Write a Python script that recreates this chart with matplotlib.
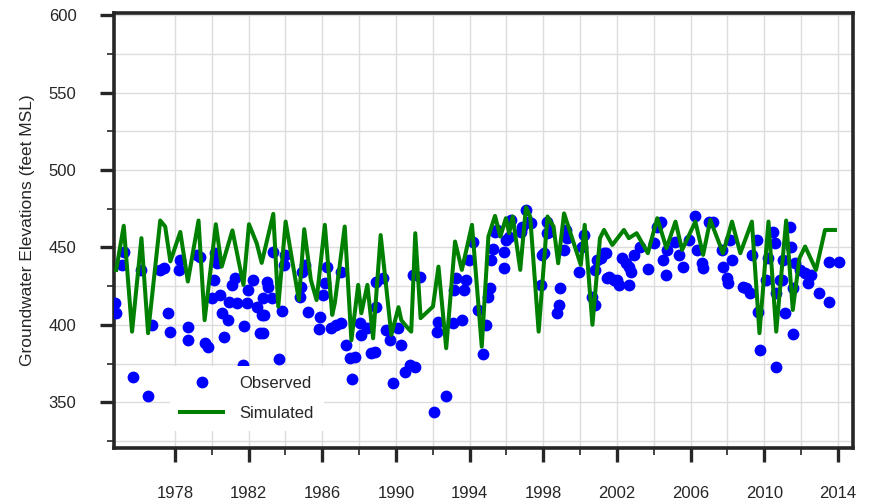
import numpy as np
import matplotlib
matplotlib.use('Agg')
import matplotlib.pyplot as plt
from matplotlib.ticker import FixedLocator

# --------------------------------------------------------------------------------------
# [1] Data (decimal year, groundwater elevation in feet MSL)
# --------------------------------------------------------------------------------------
sim_year = [1974.81, 1975.22, 1975.67, 1976.18, 1976.54, 1977.20, 1977.47, 1977.75,
            1978.29, 1978.70, 1979.28, 1979.61, 1980.22, 1980.54, 1981.12, 1981.72,
            1982.02, 1982.44, 1982.71, 1983.34, 1983.61, 1984.01, 1984.73, 1985.02,
            1985.38, 1985.69, 1986.14, 1986.54, 1986.68, 1987.22, 1987.58, 1987.95,
            1988.12, 1988.45, 1988.76, 1989.17, 1989.75, 1990.14, 1990.29, 1990.65,
            1990.83, 1991.05, 1991.34, 1992.01, 1992.31, 1992.73, 1993.21, 1993.58,
            1994.13, 1994.66, 1995.02, 1995.38, 1995.67, 1995.97, 1996.15, 1996.34,
            1996.75, 1997.06, 1997.29, 1997.75, 1998.23, 1998.56, 1998.81, 1999.13,
            2000.04, 2000.25, 2000.67, 2001.08, 2001.30, 2001.75, 2002.38, 2002.65,
            2003.07, 2003.68, 2004.19, 2004.69, 2005.18, 2005.54, 2006.26, 2006.68,
            2007.07, 2007.76, 2008.25, 2008.70, 2009.33, 2009.74, 2010.23, 2010.65,
            2011.19, 2011.55, 2011.91, 2012.22, 2012.81, 2013.30, 2013.84]
sim_level = [435.5, 464.0, 395.6, 456.0, 394.6, 467.4, 463.5, 441.0,
             460.0, 428.0, 467.4, 403.0, 465.0, 437.6, 461.0, 425.8,
             465.0, 452.7, 440.0, 471.7, 411.8, 466.7, 416.0, 461.8,
             429.0, 416.0, 464.6, 406.4, 414.0, 463.5, 390.0, 425.8,
             407.5, 425.8, 391.3, 458.0, 393.5, 411.4, 403.0, 397.8,
             395.6, 459.2, 404.3, 411.8, 437.6, 384.9, 453.8, 435.5,
             464.6, 385.9, 457.0, 470.4, 457.0, 468.9, 459.2, 470.0,
             435.5, 476.0, 470.0, 395.6, 470.0, 463.5, 439.8, 472.0,
             438.7, 464.6, 400.0, 456.0, 461.3, 451.6, 461.3, 456.0,
             459.2, 446.3, 468.9, 449.5, 466.7, 448.4, 466.7, 445.2,
             467.8, 446.3, 466.7, 446.3, 466.7, 394.6, 466.7, 395.6,
             467.4, 409.6, 443.0, 450.6, 435.5, 461.3, 461.3]

obs_year = [1975.22, 1975.13, 1974.77, 1974.81, 1975.71, 1976.54, 1976.18, 1976.75,
            1977.20, 1977.39, 1977.62, 1977.75, 1978.20, 1978.29, 1978.70, 1978.70,
            1979.19, 1979.37, 1979.64, 1979.79, 1980.10, 1980.18, 1980.27, 1980.00,
            1980.45, 1980.54, 1980.87, 1980.69, 1980.91, 1981.36, 1981.09, 1981.26,
            1981.77, 1981.90, 1981.99, 1982.26, 1981.72, 1982.44, 1982.62, 1982.71,
            1983.34, 1983.97, 1983.94, 1982.98, 1983.07, 1982.80, 1983.25, 1982.86,
            1982.80, 1983.79, 1983.65, 1985.05, 1984.88, 1984.78, 1984.84, 1985.24,
            1986.23, 1986.14, 1986.05, 1985.87, 1985.81, 1987.04, 1986.46, 1986.77,
            1987.04, 1987.31, 1987.49, 1987.76, 1987.62, 1988.03, 1988.12, 1988.45,
            1988.67, 1988.84, 1988.94, 1988.94, 1989.30, 1989.48, 1989.66, 1989.84,
            1990.11, 1990.29, 1990.47, 1990.74, 1990.92,
            1991.28, 1991.01, 1992.06, 1992.73, 1992.28, 1992.24, 1993.09, 1993.58,
            1993.18, 1993.27, 1993.68, 1993.81, 1993.99, 1994.17, 1994.44, 1994.89,
            1994.71, 1994.98, 1995.12, 1995.16, 1995.26, 1995.38, 1995.88, 1995.85,
            1996.15, 1996.25, 1996.79, 1997.06, 1997.24, 1998.05, 1997.87, 1998.23,
            1998.23, 1998.92, 1998.86, 1998.77,
            1995.47, 1995.96, 1996.86, 1997.31, 1998.30, 1999.21, 1999.29, 1999.12,
            2000.20, 2000.11, 1999.93, 2000.92, 2000.83, 2001.46, 2000.65, 2000.83,
            1997.94,
            2001.14, 2001.39, 2001.57, 2001.84, 2002.11, 2002.29, 2002.47, 2002.65,
            2002.74, 2002.92, 2003.28, 2003.68, 2004.00, 2004.19, 2004.37, 2004.51,
            2004.64, 2004.73, 2005.18, 2005.36, 2005.60, 2005.90, 2006.26, 2006.35,
            2006.62, 2006.68, 2006.98,
            2001.28, 2002.63, 2002.00, 2007.24, 2007.78, 2008.23, 2007.96, 2008.05,
            2008.86, 2009.22, 2009.31, 2009.58, 2009.67, 2010.12, 2010.21, 2010.48,
            2010.57, 2010.66, 2011.11, 2011.02, 2010.84, 2011.38, 2011.47, 2011.65,
            2011.92, 2012.19, 2012.55, 2012.37, 2013.00, 2013.54, 2013.54, 2014.08,
            2009.76, 2010.66, 2011.57,
            2008.15, 2009.03, 2010.95, 2011.58, 2007.71]
obs_level = [447.3, 438.7, 414.0, 407.5, 366.1, 354.0, 435.5, 400.0,
             435.5, 436.6, 407.9, 395.6, 435.5, 441.9, 398.9, 390.2,
             445.2, 444.1, 388.1, 385.9, 429.0, 446.3, 439.8, 417.2,
             419.3, 407.5, 403.2, 392.4, 415.0, 414.3, 425.8, 430.1,
             399.3, 414.0, 422.6, 429.0, 374.1, 411.8, 394.6, 406.4,
             447.3, 445.2, 438.7, 427.9, 424.7, 417.2, 417.2, 406.4,
             394.6, 409.2, 377.8, 438.7, 434.4, 418.2, 424.7, 408.5,
             437.6, 426.9, 419.3, 405.3, 397.2, 434.4, 397.8, 400.0,
             401.0, 387.0, 378.4, 379.4, 364.8, 401.0, 393.5, 397.8,
             381.6, 382.7, 411.8, 427.9, 430.1, 396.7, 390.2, 362.7,
             397.8, 387.0, 369.7, 374.1, 432.3,
             431.2, 373.0, 343.9, 354.0, 402.0, 395.6, 401.0, 403.2,
             422.6, 430.1, 422.6, 429.0, 441.9, 453.8, 409.6, 400.0,
             381.2, 418.2, 423.7, 441.9, 448.8, 460.3, 447.3, 436.6,
             457.0, 467.8, 460.3, 474.3, 466.7, 446.3, 425.8, 466.7,
             459.2, 423.7, 412.9, 407.5,
             461.3, 454.9, 463.5, 465.7, 460.3, 461.3, 456.0, 448.4,
             458.1, 450.6, 434.4, 441.9, 435.5, 430.1, 418.2, 412.9,
             445.2,
             443.0, 446.3, 431.2, 429.0, 425.8, 443.0, 439.8, 425.8,
             434.4, 445.2, 450.6, 436.0, 452.7, 463.5, 466.7, 441.9,
             432.3, 448.4, 453.8, 445.2, 437.6, 454.9, 470.0, 448.4,
             439.8, 436.6, 466.7,
             446.3, 437.6, 429.0, 466.7, 437.6, 441.9, 430.1, 426.9,
             424.7, 420.4, 445.2, 454.9, 408.5, 429.0, 443.0, 460.3,
             452.7, 420.4, 407.5, 441.9, 429.0, 463.5, 450.6, 439.8,
             435.5, 433.3, 432.3, 426.9, 420.4, 415.0, 440.9, 440.9,
             383.8, 373.0, 394.1,
             454.9, 423.7, 429.0, 423.7, 448.4]

major_years = [1978, 1982, 1986, 1990, 1994, 1998, 2002, 2006, 2010, 2014]
minor_years = [1980, 1984, 1988, 1992, 1996, 2000, 2004, 2008, 2012]

# --------------------------------------------------------------------------------------
# [2] Figure
# --------------------------------------------------------------------------------------
plt.rcParams['font.family'] = ['Liberation Sans', 'DejaVu Sans']
plt.rcParams['font.size'] = 12

dark = '#262626'
fig = plt.figure(figsize=(8.75, 5.04), dpi=100)
ax = fig.add_axes([114 / 875, 1 - 448 / 504, 739 / 875, 435 / 504])

ax.plot(obs_year, obs_level, 'o', color='blue', markersize=8.5,
        markeredgewidth=0, label='Observed', zorder=3)
ax.plot(sim_year, sim_level, '-', color='green', linewidth=2.9,
        label='Simulated', zorder=4)

ax.set_xlim(1974.69, 2014.82)
ax.set_ylim(320.4, 601.5)

ax.xaxis.set_major_locator(FixedLocator(major_years))
ax.xaxis.set_minor_locator(FixedLocator(minor_years))
ax.yaxis.set_major_locator(FixedLocator(np.arange(350, 601, 50)))
ax.yaxis.set_minor_locator(FixedLocator(np.arange(325, 600, 50)))

ax.set_axisbelow(True)
ax.grid(True, which='both', color='#dcdcdc', linewidth=1.0)

for s in ax.spines.values():
    s.set_linewidth(2.6)
    s.set_color(dark)

ax.tick_params(which='major', length=10, width=2.4, color=dark,
               labelcolor=dark, labelsize=12, pad=17)
ax.tick_params(which='minor', length=5, width=1.2, color=dark)

ax.set_ylabel('Groundwater Elevations (feet MSL)', fontsize=12.5, color=dark)
ax.yaxis.set_label_coords(-0.107, 0.5)

leg = ax.legend(loc='lower left', bbox_to_anchor=(0.076, 0.04), borderaxespad=0,
                frameon=True, fancybox=False, framealpha=1, facecolor='white',
                edgecolor='none', fontsize=12, handlelength=2.6,
                handletextpad=0.96, labelspacing=0.89, borderpad=0.6)
for t in leg.get_texts():
    t.set_color(dark)

fig.savefig('out.png', dpi=100)
